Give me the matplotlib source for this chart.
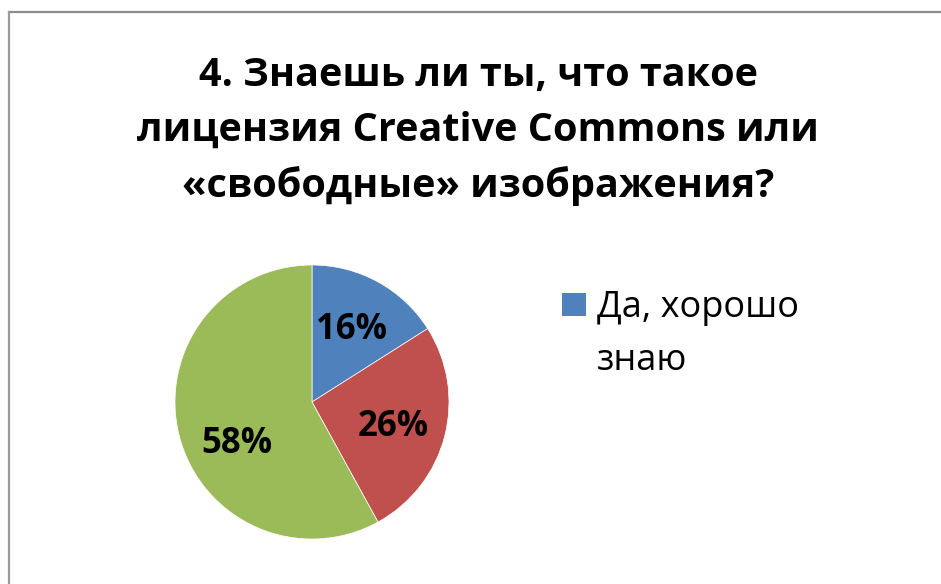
import textwrap
import matplotlib
matplotlib.use("Agg")
import matplotlib.pyplot as plt
from matplotlib.patches import Rectangle
from matplotlib.lines import Line2D

plt.rcParams['font.family'] = ['Open Sans', 'DejaVu Sans']

title = "4. Знаешь ли ты, что такое\nлицензия Creative Commons или\n«свободные» изображения?"
categories = ["Да, хорошо знаю", "Что-то слышал(а)", "Нет, не знаю"]
values = [16, 26, 58]
colors = ["#4F81BD", "#C0504D", "#9BBB59"]

W, H = 941, 584
fig = plt.figure(figsize=(W / 100, H / 100), dpi=100)

# frame lines (top and left)
fig.add_artist(Line2D([9 / W, 1], [1 - 12 / H, 1 - 12 / H], color="#8c8c8c", lw=1.6,
                      transform=fig.transFigure))
fig.add_artist(Line2D([9 / W, 9 / W], [0, 1 - 12 / H], color="#9c9c9c", lw=1.6,
                      transform=fig.transFigure))

fig.text(478 / W, 1 - 131 / H, title, ha="center", va="center", fontsize=28.5,
         fontweight="bold", linespacing=1.54, color="black")

cx, cy, r = 312, 402, 137
ax = fig.add_axes([(cx - r) / W, (H - cy - r) / H, 2 * r / W, 2 * r / H])
wedges, texts, autotexts = ax.pie(values, colors=colors, startangle=90, counterclock=False,
                                  autopct=lambda p: f"{p:.0f}%", pctdistance=0.6,
                                  wedgeprops=dict(linewidth=0.5, edgecolor="white"),
                                  textprops=dict(fontsize=25, fontweight="bold", color="black"))
# nudge labels like the reference's best-fit placement
x0, y0 = autotexts[2].get_position()
autotexts[2].set_position((x0 + 0.035, y0 - 0.16))
x1, y1 = autotexts[1].get_position()
autotexts[1].set_position((x1 + 0.01, y1 - 0.03))
ax.set_xlim(-1, 1)
ax.set_ylim(-1, 1)
ax.set_aspect("equal")
ax.axis("off")

# legend (only first entry visible, as in the reference)
fig.add_artist(Rectangle((562 / W, 1 - 316 / H), 24 / W, 23 / H, facecolor=colors[0],
                         edgecolor="none", transform=fig.transFigure))
fig.text(597 / W, 1 - 370 / H, textwrap.fill(categories[0], 10), ha="left", va="baseline",
         fontsize=26, linespacing=1.64, color="black")

fig.savefig("out.png", dpi=100, facecolor="white")
